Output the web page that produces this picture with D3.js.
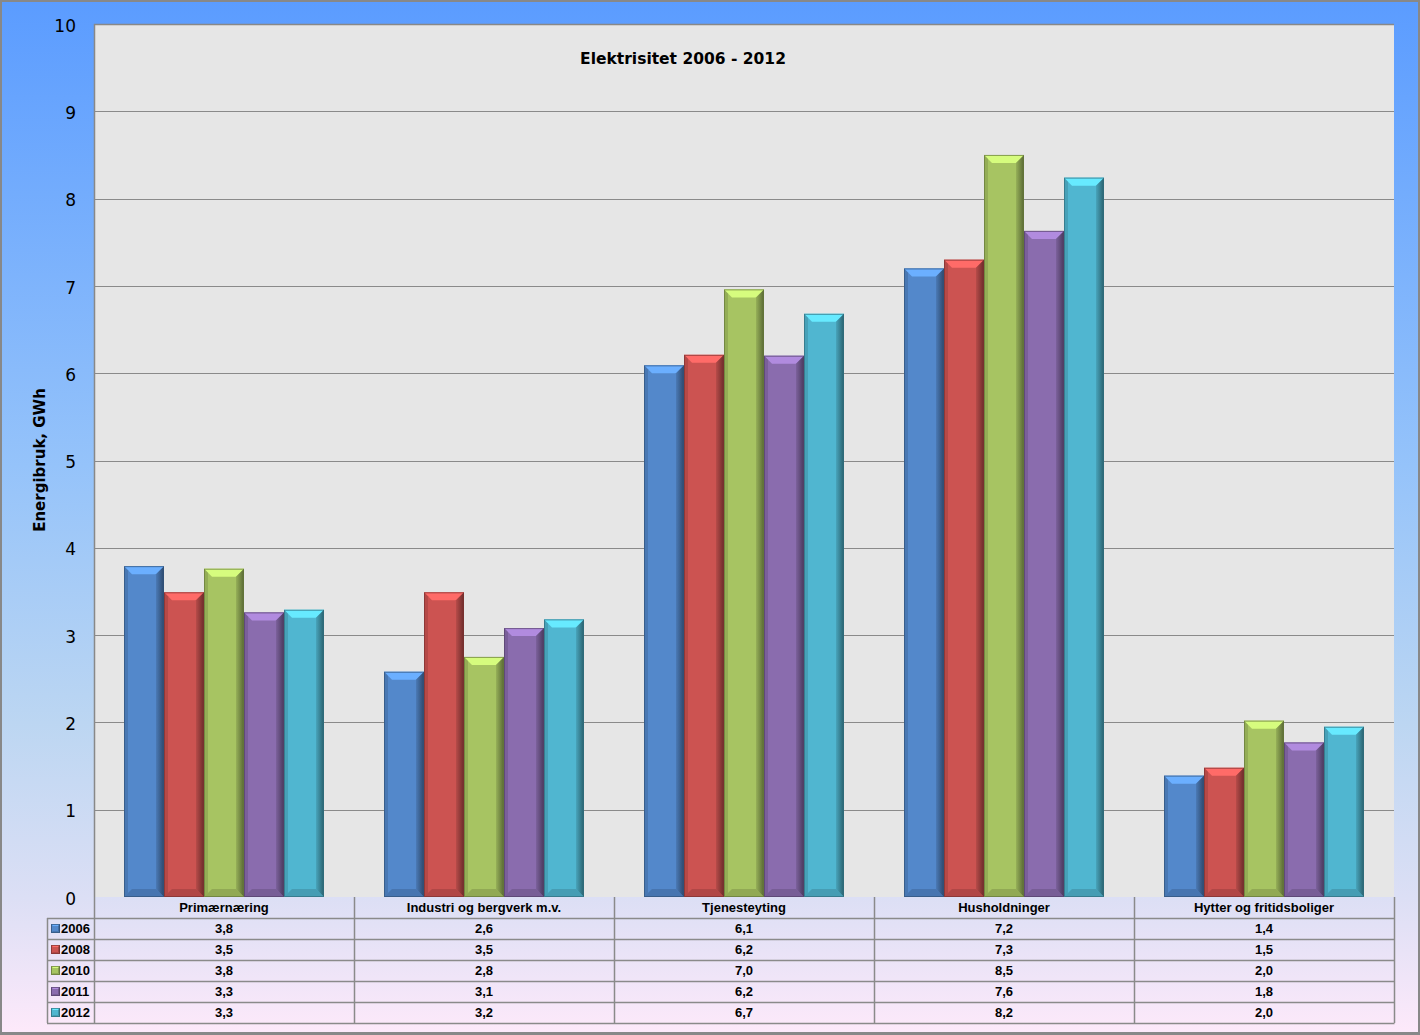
<!DOCTYPE html>
<html><head><meta charset="utf-8">
<script src="https://cdn.jsdelivr.net/npm/d3@7"></script>
<style>html,body{margin:0;padding:0;overflow:hidden;background:#fff}</style>
</head><body>
<svg id="c" width="1420" height="1035"></svg>
<script>
const categories = ["Primærnæring", "Industri og bergverk m.v.", "Tjenesteyting", "Husholdninger", "Hytter og fritidsboliger"];
const years = ["2006", "2008", "2010", "2011", "2012"];
const v2006 = [3.79, 2.58, 6.09, 7.20, 1.39];
const v2008 = [3.49, 3.49, 6.21, 7.30, 1.48];
const v2010 = [3.76, 2.75, 6.96, 8.50, 2.02];
const v2011 = [3.26, 3.08, 6.20, 7.63, 1.77];
const v2012 = [3.29, 3.18, 6.68, 8.24, 1.95];
const yTicks = [0,1,2,3,4,5,6,7,8,9,10];
const colors = ["#5388cb", "#cc5351", "#a7c462", "#8a6cae", "#50b6d0"];
const series = [v2006, v2008, v2010, v2011, v2012];

const W = 1420, H = 1035;
const svg = d3.select("#c");
const defs = svg.append("defs");

const bg = defs.append("linearGradient").attr("id","bg").attr("x1",0).attr("y1",0).attr("x2",0).attr("y2",1);
[[0,"#5b9cff"],[0.45,"#95c3fa"],[0.7,"#bcd6f2"],[0.87,"#dcdff5"],[1,"#fde9fa"]].forEach(s=>bg.append("stop").attr("offset",s[0]).attr("stop-color",s[1]));
svg.append("rect").attr("x",0).attr("y",0).attr("width",W).attr("height",H).attr("fill","#888");
svg.append("rect").attr("x",2).attr("y",2).attr("width",W-4).attr("height",H-5).attr("fill","url(#bg)");

const m = {l:94, r:1394, t:24, b:897};
const x0 = d3.scaleBand().domain(categories).range([m.l, m.r]).paddingInner(0).paddingOuter(0);
const x1 = d3.scaleBand().domain(years).range([30, x0.bandwidth()-30]).paddingInner(0).paddingOuter(0);
const y = d3.scaleLinear().domain([0,10]).range([m.b, m.t]);

svg.append("rect").attr("x",m.l).attr("y",m.t).attr("width",m.r-m.l).attr("height",m.b-m.t).attr("fill","#e6e6e6");
svg.append("path").attr("d",`M${m.l+0.5},${m.b}V${m.t+0.5}H${m.r}`).attr("fill","none").attr("stroke","#888").attr("stroke-width",1.5);

svg.append("g").selectAll("line").data(yTicks.slice(1,-1)).join("line")
  .attr("x1",m.l).attr("x2",m.r).attr("y1",d=>Math.round(y(d))+0.5).attr("y2",d=>Math.round(y(d))+0.5)
  .attr("stroke","#8a8a8a").attr("stroke-width",1);

const yAxis = d3.axisLeft(y).tickValues(yTicks).tickSize(0).tickPadding(18);
const ga = svg.append("g").attr("transform",`translate(${m.l},0)`).call(yAxis);
ga.select(".domain").remove();
ga.selectAll("text").attr("font-family","'DejaVu Sans', sans-serif").attr("font-size",17).attr("fill","#000").attr("dy","0.42em");

svg.append("text").attr("transform","translate(45,460) rotate(-90)").attr("text-anchor","middle")
  .attr("font-family","'DejaVu Sans', sans-serif").attr("font-weight","bold").attr("font-size",15).text("Energibruk, GWh");

svg.append("text").attr("x",683).attr("y",64).attr("text-anchor","middle")
  .attr("font-family","'DejaVu Sans', sans-serif").attr("font-weight","bold").attr("font-size",15.5).text("Elektrisitet 2006 - 2012");

function bevelBar(g, x, yTop, w, h, col, b) {
  const c = d3.color(col);
  const light = c.brighter(0.7).formatHex();
  const dark = c.darker(0.6).formatHex();
  const darker = c.darker(1.4).formatHex();
  b = Math.min(b, h/2, w/2);
  g.append("rect").attr("x",x).attr("y",yTop).attr("width",w).attr("height",h).attr("fill",col);
  g.append("path").attr("d",`M${x},${yTop}H${x+w}L${x+w-b},${yTop+b}H${x+b}Z`).attr("fill",light);
  g.append("path").attr("d",`M${x+w},${yTop}V${yTop+h}L${x+w-b},${yTop+h-b}V${yTop+b}Z`).attr("fill",`url(#rg${col.slice(1)})`);
  g.append("path").attr("d",`M${x},${yTop}V${yTop+h}L${x+b*0.5},${yTop+h-b*0.5}V${yTop+b*0.5}Z`).attr("fill",dark).attr("opacity",0.6);
  g.append("path").attr("d",`M${x},${yTop+h}H${x+w}L${x+w-b},${yTop+h-b}H${x+b}Z`).attr("fill",dark).attr("opacity",0.7);
  g.append("rect").attr("x",x+0.5).attr("y",yTop+0.5).attr("width",w-1).attr("height",h-1).attr("fill","none").attr("stroke",darker).attr("stroke-opacity",0.7);
}
colors.forEach(col=>{
  const c = d3.color(col);
  const gr = defs.append("linearGradient").attr("id","rg"+col.slice(1)).attr("x1",0).attr("x2",1).attr("y1",0).attr("y2",0);
  gr.append("stop").attr("offset",0).attr("stop-color",c.darker(0.3).formatHex());
  gr.append("stop").attr("offset",1).attr("stop-color",c.darker(1.8).formatHex());
});

const bars = svg.append("g");
categories.forEach((cat,ci)=>{
  years.forEach((yr,si)=>{
    const v = series[si][ci];
    const bx = x0(cat) + x1(yr);
    const by = y(v);
    bevelBar(bars.append("g"), bx, by, x1.bandwidth(), y(0)-by, colors[si], 8);
  });
});

const rowH = 21;
const tTop = m.b, tLeft = 47;
const tg = svg.append("g");
const fmt = v => (Math.round(v*10)/10).toFixed(1).replace(".", ",");
const tableFont = "'Liberation Sans Narrow', 'Arial Narrow', 'Liberation Sans', sans-serif";
const lineCol = "#8a8a8a";
for (let r=1; r<=years.length+1; r++) {
  const yy = tTop + r*rowH + 0.5;
  tg.append("line").attr("x1",tLeft).attr("x2",m.r+0.5).attr("y1",yy).attr("y2",yy).attr("stroke",lineCol).attr("stroke-width",1.5);
}
categories.forEach((cat)=>{
  const xx = Math.round(x0(cat))+0.5;
  tg.append("line").attr("x1",xx).attr("x2",xx).attr("y1",tTop).attr("y2",tTop+rowH*(years.length+1)).attr("stroke",lineCol).attr("stroke-width",1.5);
});
tg.append("line").attr("x1",m.r+0.5).attr("x2",m.r+0.5).attr("y1",tTop).attr("y2",tTop+rowH*(years.length+1)).attr("stroke",lineCol).attr("stroke-width",1.5);
tg.append("line").attr("x1",tLeft+0.5).attr("x2",tLeft+0.5).attr("y1",tTop+rowH).attr("y2",tTop+rowH*(years.length+1)).attr("stroke",lineCol).attr("stroke-width",1.5);

categories.forEach(cat=>{
  tg.append("text").attr("x",x0(cat)+x0.bandwidth()/2).attr("y",tTop+rowH/2+4.5).attr("text-anchor","middle")
    .attr("font-family",tableFont).attr("font-weight","bold").attr("font-size",13).text(cat);
});
years.forEach((yr,si)=>{
  const ry = tTop + (si+1)*rowH;
  bevelBar(tg.append("g"), 51, ry+6, 9, 9, colors[si], 2);
  tg.append("text").attr("x",61).attr("y",ry+rowH/2+4.5)
    .attr("font-family",tableFont).attr("font-weight","bold").attr("font-size",13).text(yr);
  categories.forEach((cat,ci)=>{
    tg.append("text").attr("x",x0(cat)+x0.bandwidth()/2).attr("y",ry+rowH/2+4.5).attr("text-anchor","middle")
      .attr("font-family",tableFont).attr("font-weight","bold").attr("font-size",13).text(fmt(series[si][ci]));
  });
});
</script>
</body></html>
